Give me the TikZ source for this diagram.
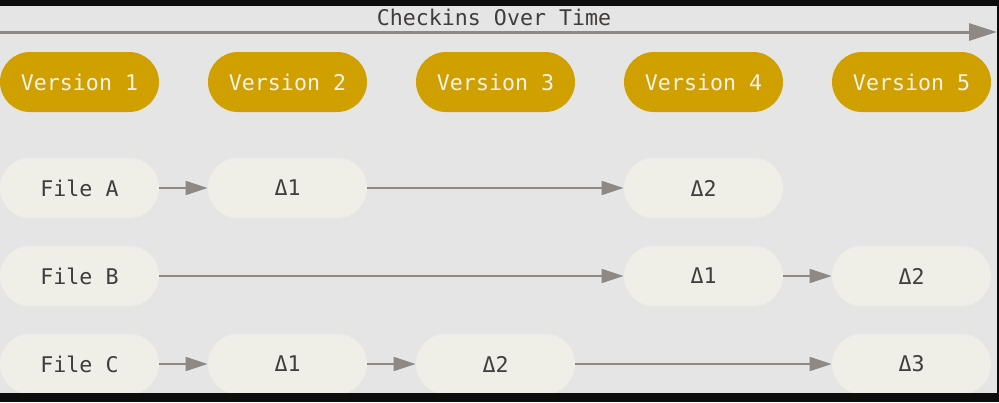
\documentclass[tikz,border=0pt]{standalone}
\usepackage{fontspec}
\setmonofont{DejaVu Sans Mono}
\usetikzlibrary{arrows.meta}
\definecolor{bg}{HTML}{E5E5E5}
\definecolor{gold}{HTML}{CFA000}
\definecolor{goldtext}{HTML}{F4F2EA}
\definecolor{filebox}{HTML}{EFEEE7}
\definecolor{arrowgray}{HTML}{8F8985}
\definecolor{txt}{HTML}{403E3C}
\tikzset{
  pill/.style={rectangle, rounded corners=15pt, minimum width=79.5pt, minimum height=30pt, inner sep=0pt,
    font=\ttfamily\fontsize{10.8}{12}\selectfont},
  verbox/.style={pill, fill=gold, text=goldtext},
  filepill/.style={pill, fill=filebox, text=txt},
  conn/.style={draw=arrowgray, line width=1pt, -{Triangle[length=11pt,width=7pt]}},
  timeline/.style={draw=arrowgray, line width=1.5pt, -{Triangle[length=14pt,width=8.5pt]}}
}
\begin{document}
\begin{tikzpicture}[x=0.5pt,y=-0.5pt]
\useasboundingbox (0,0) rectangle (999,402);
\fill[bg] (0,0) rectangle (999,402);
% title and timeline
\node[font=\ttfamily\fontsize{10.8}{12}\selectfont, text=txt, inner sep=0pt] (title) at (494,17) {Checkins Over Time};
\coordinate (tl) at (0,32);
\coordinate (tr) at (997,32);
\draw[timeline] (tl) -- (tr);
% versions
\node[verbox] (v1) at (79.5,82) {Version 1};
\node[verbox] (v2) at (287.5,82) {Version 2};
\node[verbox] (v3) at (495.5,82) {Version 3};
\node[verbox] (v4) at (703.5,82) {Version 4};
\node[verbox] (v5) at (911.5,82) {Version 5};
% File A row
\node[filepill] (fa) at (79.5,188) {File A};
\node[filepill] (a1) at (287.5,188) {Δ1};
\node[filepill] (a2) at (703.5,188) {Δ2};
% File B row
\node[filepill] (fb) at (79.5,276) {File B};
\node[filepill] (b1) at (703.5,276) {Δ1};
\node[filepill] (b2) at (911.5,276) {Δ2};
% File C row
\node[filepill] (fc) at (79.5,364) {File C};
\node[filepill] (c1) at (287.5,364) {Δ1};
\node[filepill] (c2) at (495.5,364) {Δ2};
\node[filepill] (c3) at (911.5,364) {Δ3};
% connectors
\draw[conn] (fa) -- (a1);
\draw[conn] (a1) -- (a2);
\draw[conn] (fb) -- (b1);
\draw[conn] (b1) -- (b2);
\draw[conn] (fc) -- (c1);
\draw[conn] (c1) -- (c2);
\draw[conn] (c2) -- (c3);
% black frame
\fill[black!95] (0,0) rectangle (999,6);
\fill[black!95] (0,393) rectangle (999,402);
\fill[black!95] (997,0) rectangle (999,402);
\end{tikzpicture}
\end{document}
